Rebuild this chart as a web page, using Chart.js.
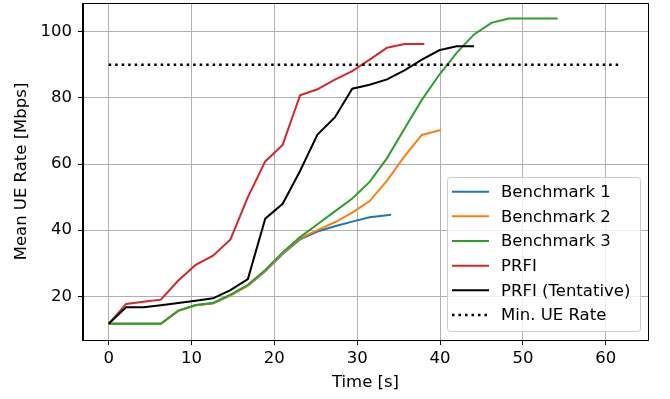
<!DOCTYPE html>
<html>
<head>
<meta charset="utf-8">
<script src="https://cdn.jsdelivr.net/npm/chart.js@4/dist/chart.umd.min.js"></script>
<style>
  html, body { margin: 0; padding: 0; background: #fff; }
  #wrap { width: 670px; height: 399px; }
</style>
</head>
<body>
<div id="wrap"><canvas id="myChart" width="670" height="399"></canvas></div>
<script>
const seriesNames = ['Benchmark 1', 'Benchmark 2', 'Benchmark 3', 'PRFI', 'PRFI (Tentative)'];
const seriesColors = ['#1f77b4', '#ff7f0e', '#2ca02c', '#d62728', '#000000'];

const bench1Time = [0, 2.1, 4.2, 6.3, 8.4, 10.5, 12.6, 14.7, 16.8, 18.9, 21.0, 23.1, 25.2, 27.3, 29.4, 31.5, 34.1];
const bench1Rate = [11.7, 11.7, 11.7, 11.7, 15.6, 17.3, 17.9, 20.3, 23.2, 27.6, 32.8, 37.2, 39.6, 41.2, 42.6, 43.9, 44.7];

const bench2Time = [0, 2.1, 4.2, 6.3, 8.4, 10.5, 12.6, 14.7, 16.8, 18.9, 21.0, 23.1, 25.2, 27.3, 29.4, 31.5, 33.6, 35.7, 37.8, 40.1];
const bench2Rate = [11.7, 11.7, 11.7, 11.7, 15.6, 17.3, 17.9, 20.3, 23.3, 27.7, 33.0, 37.5, 40.0, 42.4, 45.3, 48.8, 55.0, 62.3, 68.8, 70.3];

const bench3Time = [0, 2.1, 4.2, 6.3, 8.4, 10.5, 12.6, 14.7, 16.8, 18.9, 21.0, 23.1, 25.2, 27.3, 29.4, 31.5, 33.6, 35.7, 37.8, 39.9, 42.0, 44.1, 46.2, 48.3, 54.2];
const bench3Rate = [11.7, 11.7, 11.7, 11.7, 15.7, 17.4, 18.0, 20.5, 23.5, 28.0, 33.3, 37.9, 41.8, 45.7, 49.6, 54.6, 61.8, 70.7, 79.4, 87.0, 93.6, 99.2, 102.7, 104.0, 104.0];

const prfiTime = [0, 2.1, 4.2, 6.3, 8.4, 10.5, 12.6, 14.7, 16.8, 18.9, 21.0, 23.1, 25.2, 27.3, 29.4, 31.5, 33.6, 35.7, 38.1];
const prfiRate = [11.7, 17.7, 18.4, 19.0, 24.8, 29.5, 32.3, 37.2, 50.0, 60.8, 65.8, 80.8, 82.6, 85.5, 88.1, 91.6, 95.2, 96.3, 96.3];

const tentTime = [0, 2.1, 4.2, 6.3, 8.4, 10.5, 12.6, 14.7, 16.8, 18.9, 21.0, 23.1, 25.2, 27.3, 29.4, 31.5, 33.6, 35.7, 37.8, 39.9, 42.0, 44.1];
const tentRate = [11.7, 16.7, 16.7, 17.3, 18.0, 18.7, 19.4, 21.9, 25.2, 43.5, 48.0, 57.9, 68.9, 74.1, 82.8, 84.0, 85.6, 88.3, 91.6, 94.4, 95.6, 95.6];

const minRateTime = [0, 62];
const minRateValue = [90, 90];

const xTicks = [0, 10, 20, 30, 40, 50, 60];
const yTicks = [20, 40, 60, 80, 100];

const FONT = 'DejaVu Sans';
const FSIZE = 16.5;
const toPoints = (t, v) => t.map((x, i) => ({ x: x, y: v[i] }));

const times = [bench1Time, bench2Time, bench3Time, prfiTime, tentTime];
const rates = [bench1Rate, bench2Rate, bench3Rate, prfiRate, tentRate];

const datasets = seriesNames.map((name, i) => ({
  label: name,
  data: toPoints(times[i], rates[i]),
  borderColor: seriesColors[i],
  backgroundColor: seriesColors[i],
  borderWidth: 2,
  pointRadius: 0,
  tension: 0,
  fill: false,
  order: 10 - i
}));
datasets.push({
  label: 'Min. UE Rate',
  data: toPoints(minRateTime, minRateValue),
  borderColor: '#000',
  backgroundColor: '#000',
  borderWidth: 2.5,
  borderDash: [2.5, 4],
  borderCapStyle: 'butt',
  pointRadius: 0,
  fill: false,
  order: 1
});

// frame on top/right + legend box inside the plot
const framePlugin = {
  id: 'frame',
  afterDatasetsDraw(chart) {
    const { ctx, chartArea: a } = chart;
    ctx.save();
    ctx.strokeStyle = '#000';
    ctx.lineWidth = 1;
    ctx.strokeRect(Math.round(a.left) - 0.5, Math.round(a.top) + 0.5, Math.round(a.right - a.left) + 1, Math.round(a.bottom - a.top));
    ctx.restore();
  },
  afterDraw(chart) {
    const ctx = chart.ctx;
    const x = 447, y = 177, w = 193, h = 154;
    ctx.save();
    ctx.beginPath();
    ctx.roundRect(x + 0.5, y + 0.5, w, h, 3);
    ctx.fillStyle = 'rgba(255,255,255,0.8)';
    ctx.fill();
    ctx.strokeStyle = '#cccccc';
    ctx.lineWidth = 1;
    ctx.stroke();
    ctx.font = FSIZE + 'px "' + FONT + '"';
    ctx.textBaseline = 'middle';
    ctx.fillStyle = '#000';
    chart.data.datasets.forEach((ds, i) => {
      const cy = 191.7 + i * 24.65;
      ctx.beginPath();
      ctx.setLineDash(ds.borderDash || []);
      ctx.strokeStyle = ds.borderColor;
      ctx.lineWidth = ds.borderWidth;
      ctx.moveTo(452, cy);
      ctx.lineTo(489, cy);
      ctx.stroke();
      ctx.setLineDash([]);
      ctx.fillText(ds.label, 501, cy + 1);
    });
    ctx.restore();
  }
};

const ctx = document.getElementById('myChart').getContext('2d');
const myChart = new Chart(ctx, {
  type: 'line',
  data: { datasets: datasets },
  options: {
    responsive: false,
    animation: false,
    devicePixelRatio: 1,
    layout: { padding: { left: 0, top: 3, right: 22, bottom: 0 } },
    plugins: { legend: { display: false }, tooltip: { enabled: false } },
    scales: {
      x: {
        type: 'linear',
        min: -3.1,
        max: 65.1,
        afterBuildTicks: s => { s.ticks = xTicks.map(v => ({ value: v })); },
        afterFit: s => { s.height = 59; s.paddingLeft = 0; s.paddingRight = 0; },
        grid: { color: '#b0b0b0', lineWidth: 1, tickColor: '#000', tickLength: 5 },
        border: { color: '#000', width: 1 },
        ticks: { color: '#000', font: { family: FONT, size: FSIZE }, padding: 4, maxRotation: 0 },
        title: { display: true, text: 'Time [s]', color: '#000', font: { family: FONT, size: FSIZE }, padding: { top: 2, bottom: 6 } }
      },
      y: {
        type: 'linear',
        min: 6.8,
        max: 108.7,
        afterBuildTicks: s => { s.ticks = yTicks.map(v => ({ value: v })); },
        afterFit: s => { s.width = 83; s.paddingTop = 0; s.paddingBottom = 0; },
        grid: { color: '#b0b0b0', lineWidth: 1, tickColor: '#000', tickLength: 5 },
        border: { color: '#000', width: 1 },
        ticks: { color: '#000', font: { family: FONT, size: FSIZE }, padding: 6 },
        title: { display: true, text: 'Mean UE Rate [Mbps]', color: '#000', font: { family: FONT, size: FSIZE }, padding: { top: 12, bottom: 4 } }
      }
    }
  },
  plugins: [framePlugin]
});
</script>
</body>
</html>
